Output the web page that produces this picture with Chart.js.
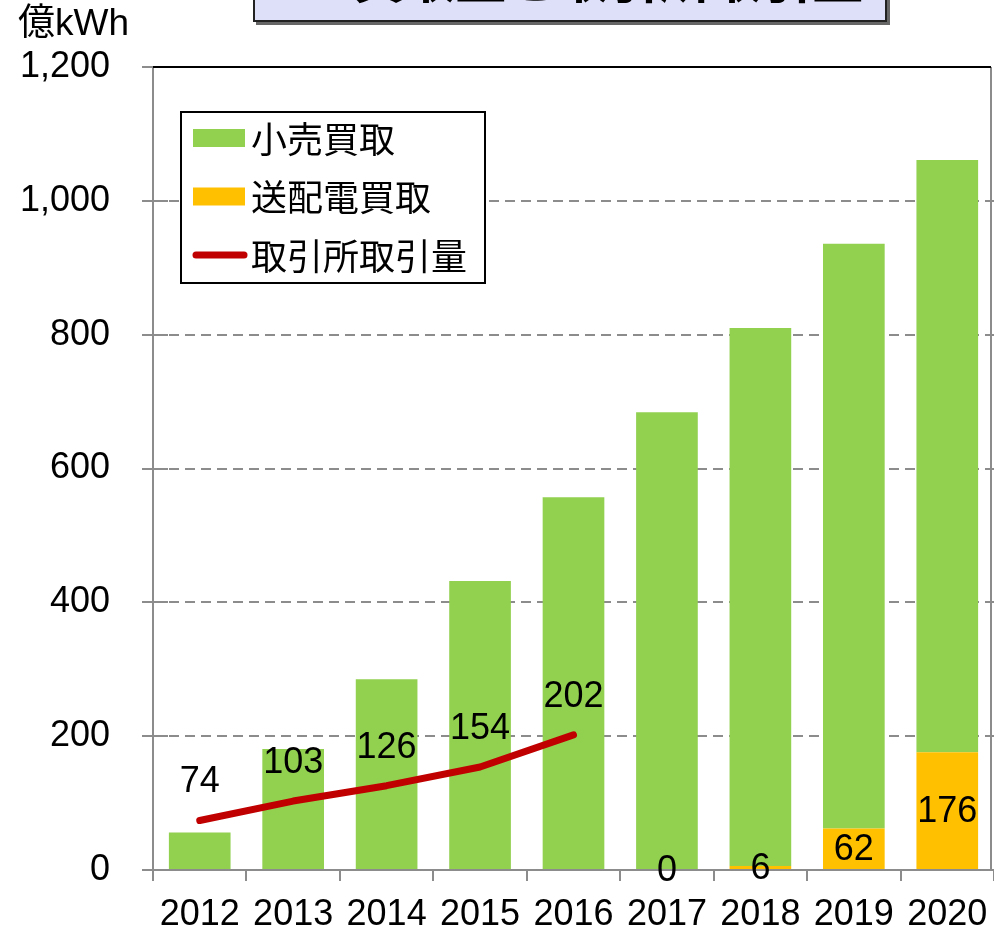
<!DOCTYPE html>
<html>
<head>
<meta charset="utf-8">
<script src="https://cdn.jsdelivr.net/npm/chart.js@4.4.1/dist/chart.umd.min.js"></script>
<style>
body { margin: 0; background: #fff; }
#wrap { position: relative; width: 994px; height: 931px; overflow: hidden; }
#title {
    position: absolute; left: 253px; top: -40px; width: 630px; height: 58px;
    background: #dedff8; border: 2px solid #222; box-shadow: 3px 3px 0 #666;
}
#title span {
    position: absolute; left: 0; right: 0; bottom: 14px; text-align: center;
    font: bold 51px 'Liberation Sans', 'Noto Sans CJK JP', sans-serif; line-height: 51px;
}
</style>
</head>
<body>
<div id="wrap">
    <canvas id="grafico" width="994" height="931"></canvas>
    <div id="title"><span>FIT買取量と取引所取引量</span></div>
</div>
<script>
const anos = ["2012", "2013", "2014", "2015", "2016", "2017", "2018", "2019", "2020"];
const kouriKaitori = [56, 181, 285, 432, 557, 684, 804, 874, 885];
const souhaidenKaitori = [null, null, null, null, null, 0, 6, 62, 176];
const torihikiRyou = [74, 103, 126, 154, 202, null, null, null, null];
const yTickLabels = ["0", "200", "400", "600", "800", "1,000", "1,200"];
const unidade = "億kWh";

const fonte = "'Liberation Sans', Arial, 'Noto Sans CJK JP', sans-serif";
const fonteJP = "'Noto Sans CJK JP', sans-serif";
const verde = "#92d050", laranja = "#ffc000", vermelho = "#c00000", cinza = "#8c8c8c";

const molduraPlugin = {
    id: "moldura",
    beforeDatasetsDraw(chart) {
        const { ctx, chartArea: a, scales: { y } } = chart;
        ctx.save();
        ctx.strokeStyle = cinza;
        ctx.lineWidth = 2;
        ctx.setLineDash([10, 6]);
        y.ticks.forEach(t => {
            if (t.value === y.min || t.value === y.max) return;
            const py = Math.round(y.getPixelForValue(t.value));
            ctx.beginPath();
            ctx.moveTo(a.left, py);
            ctx.lineTo(a.right, py);
            ctx.stroke();
        });
        ctx.restore();
    },
    afterDatasetsDraw(chart) {
        const { ctx, chartArea: a, scales: { x, y } } = chart;
        ctx.save();

        // eixos
        ctx.lineWidth = 2;
        ctx.strokeStyle = cinza;
        ctx.beginPath();
        ctx.moveTo(a.left, a.top);
        ctx.lineTo(a.left, a.bottom + 11);
        ctx.moveTo(a.left - 11, a.bottom);
        ctx.lineTo(a.right, a.bottom);
        ctx.moveTo(a.right - 3, a.top);
        ctx.lineTo(a.right - 3, a.bottom);
        ctx.stroke();
        y.ticks.forEach(t => {
            const py = Math.round(y.getPixelForValue(t.value));
            ctx.beginPath();
            ctx.moveTo(a.left - 11, py);
            ctx.lineTo(t.value === y.max ? a.left : a.left + 15, py);
            ctx.stroke();
        });
        for (let i = 0; i <= anos.length; i++) {
            const px = Math.round(x.getPixelForValue(i - 0.5));
            ctx.beginPath();
            ctx.moveTo(px, a.bottom);
            ctx.lineTo(px, a.bottom + 11);
            ctx.stroke();
        }
        ctx.strokeStyle = "#000";
        ctx.beginPath();
        ctx.moveTo(a.left, a.top);
        ctx.lineTo(a.right - 3, a.top);
        ctx.stroke();

        // rotulos
        ctx.fillStyle = "#000";
        ctx.font = "36px " + fonte;
        ctx.textAlign = "center";
        ctx.textBaseline = "middle";
        chart.data.datasets.forEach((ds, di) => {
            const meta = chart.getDatasetMeta(di);
            ds.data.forEach((v, i) => {
                if (v === null) return;
                const el = meta.data[i];
                if (ds.type === "line") {
                    ctx.fillText(v, el.x, el.y - 38);
                } else if (ds.label === "送配電買取") {
                    ctx.fillText(v, el.x, (el.y + el.base) / 2 + 1);
                }
            });
        });

        // unidade
        ctx.textAlign = "left";
        ctx.font = "37px " + fonte;
        ctx.fillText(unidade, 18, 25);

        // legenda
        const lx = a.left + 28, ly = a.top + 45;
        ctx.fillStyle = "#fff";
        ctx.fillRect(lx, ly, 304, 171);
        ctx.strokeStyle = "#000";
        ctx.lineWidth = 2;
        ctx.strokeRect(lx, ly, 304, 171);
        const itens = [
            { label: "小売買取", cor: verde, linha: false },
            { label: "送配電買取", cor: laranja, linha: false },
            { label: "取引所取引量", cor: vermelho, linha: true }
        ];
        ctx.font = "36px " + fonteJP;
        itens.forEach((it, i) => {
            const cy = ly + 26 + i * 58.5;
            if (it.linha) {
                ctx.strokeStyle = it.cor;
                ctx.lineWidth = 7;
                ctx.lineCap = "round";
                ctx.beginPath();
                ctx.moveTo(lx + 15, cy);
                ctx.lineTo(lx + 63, cy);
                ctx.stroke();
            } else {
                ctx.fillStyle = it.cor;
                ctx.fillRect(lx + 12, cy - 9, 52, 18);
            }
            ctx.fillStyle = "#000";
            ctx.fillText(it.label, lx + 70, cy + 1);
        });
        ctx.restore();
    }
};

const ctx = document.getElementById("grafico").getContext("2d");
new Chart(ctx, {
    type: "bar",
    data: {
        labels: anos,
        datasets: [
            {
                type: "line",
                label: "取引所取引量",
                data: torihikiRyou,
                borderColor: vermelho,
                borderWidth: 7,
                borderCapStyle: "round",
                borderJoinStyle: "round",
                pointRadius: 0,
                tension: 0,
                stack: "linha",
                order: 0
            },
            {
                label: "送配電買取",
                data: souhaidenKaitori,
                backgroundColor: laranja,
                stack: "compra",
                order: 1
            },
            {
                label: "小売買取",
                data: kouriKaitori,
                backgroundColor: verde,
                stack: "compra",
                order: 2
            }
        ]
    },
    options: {
        responsive: false,
        animation: false,
        layout: { padding: { left: 0, top: 67, right: 0, bottom: 0 } },
        datasets: { bar: { categoryPercentage: 1, barPercentage: 0.66 } },
        plugins: { legend: { display: false }, tooltip: { enabled: false } },
        scales: {
            x: {
                stacked: true,
                grid: { display: false, drawTicks: false },
                border: { display: false },
                ticks: { color: "#000", font: { family: fonte, size: 36 }, padding: 23, maxRotation: 0, autoSkip: false },
                afterFit(s) { s.height = 61; s.paddingLeft = 0; s.paddingRight = 0; }
            },
            y: {
                stacked: true,
                min: 0,
                max: 1200,
                grid: { display: false, drawTicks: false },
                border: { display: false },
                ticks: {
                    stepSize: 200,
                    color: "#000",
                    font: { family: fonte, size: 36 },
                    padding: 43,
                    callback: (v, i) => yTickLabels[i]
                },
                afterFit(s) { s.width = 153; s.paddingTop = 0; s.paddingBottom = 0; }
            }
        }
    },
    plugins: [molduraPlugin]
});
</script>
</body>
</html>
